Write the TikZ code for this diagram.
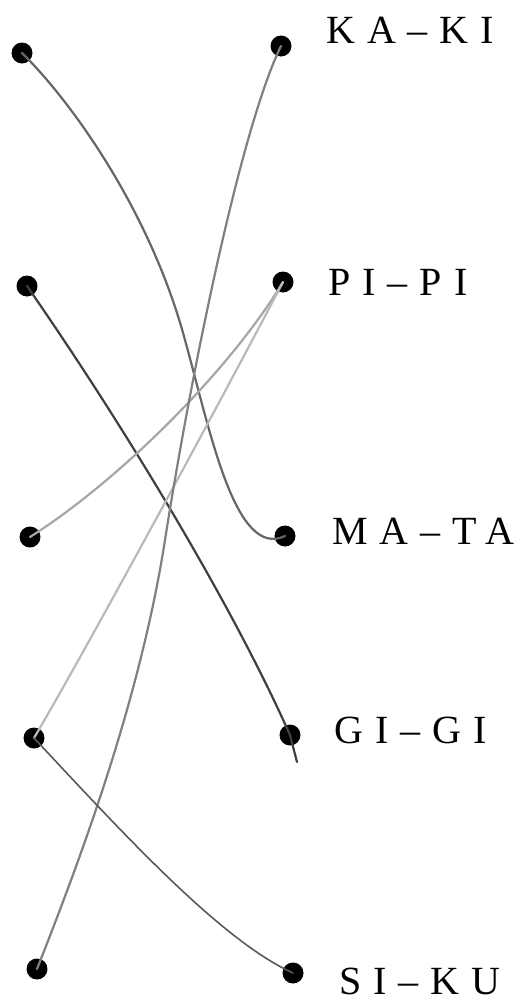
\documentclass[tikz,border=0pt]{standalone}
\usepackage{fontspec}
\setmainfont{Liberation Serif}
\usepackage{tikz}
\usetikzlibrary{arrows.meta, positioning}

\tikzset{
  dot/.style={circle, fill=black, inner sep=0pt, minimum size=21pt},
  word/.style={anchor=west, inner sep=0pt, font=\fontsize{40}{42}\selectfont\addfontfeature{LetterSpace=30}},
  pen/.style={line width=2.2pt, line cap=round}
}

\begin{document}
\begin{tikzpicture}[x=1pt, y=-1pt]
            \useasboundingbox (0,0) rectangle (523,1004);

            % Left dots
            \node[dot] (l1) at (22,53) {};
            \node[dot] (l2) at (27,286) {};
            \node[dot] (l3) at (30,537) {};
            \node[dot] (l4) at (34,738) {};
            \node[dot] (l5) at (37,969) {};

            % Right dots and their words
            \node[dot] (kaki) at (281,46) {};
            \node[dot] (pipi) at (283,282) {};
            \node[dot] (mata) at (285,536) {};
            \node[dot] (gigi) at (290,735) {};
            \node[dot] (siku) at (293,973) {};

            \node[word] (kakiw) at (326,30) {KA–KI};
            \node[word] (pipiw) at (328,282) {PI–PI};
            \node[word] (mataw) at (332,531) {MA–TA};
            \node[word] (gigiw) at (334,730) {GI–GI};
            \node[word] (sikuw) at (339,981) {SI–KU};

            % Hand drawn pairings
            \coordinate (gend) at (297,762);

            \draw[pen, gray!80!black] (l1.center) .. controls (70,100) and (150,210) .. (185,340)
                .. controls (210,430) and (235,560) .. (mata.center);
            \draw[pen, black!75] (l2.center) .. controls (120,420) and (230,600) .. (gigi.center) -- (gend);
            \draw[pen, gray!70] (l3.center) .. controls (120,480) and (230,370) .. (pipi.center);
            \draw[pen, gray!55] (l4.center) .. controls (80,660) and (200,440) .. (pipi.center);
            \draw[pen, gray] (l5.center) .. controls (80,860) and (140,700) .. (165,540)
                .. controls (190,380) and (240,130) .. (kaki.center);
            \draw[pen, line width=1.6pt, black!65] (l4.center) .. controls (120,830) and (220,940) .. (siku.center);

        \end{tikzpicture}
\end{document}
